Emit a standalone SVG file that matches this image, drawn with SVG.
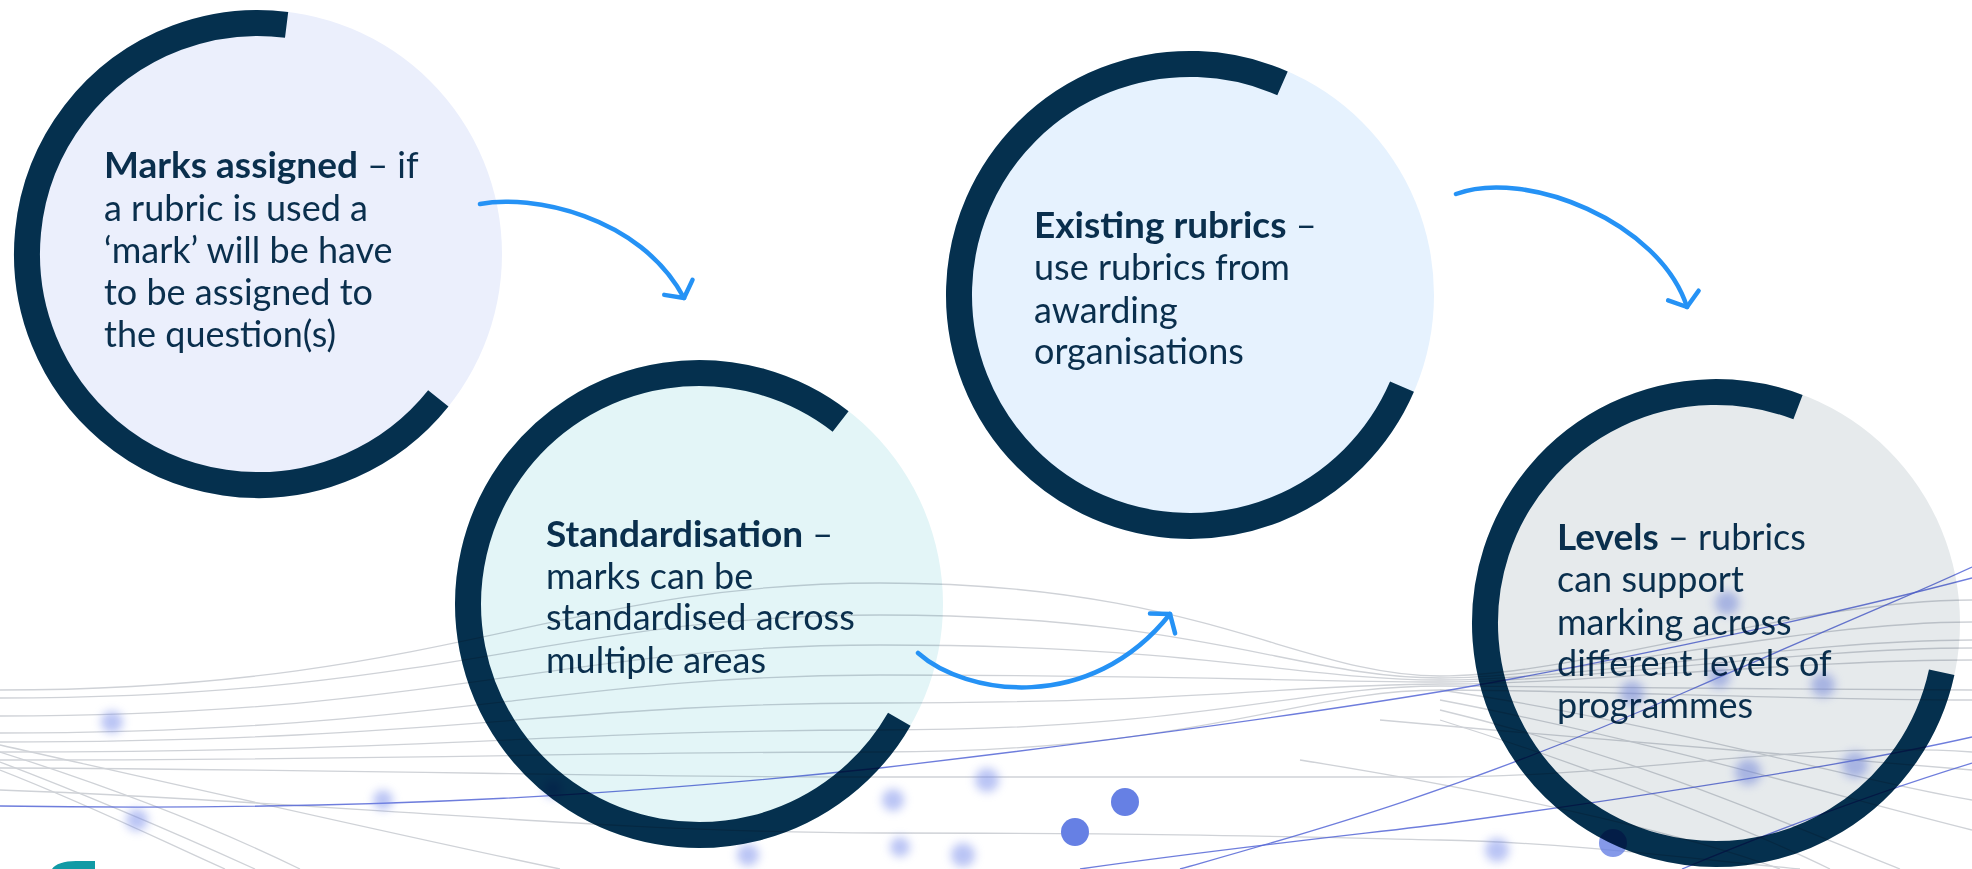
<svg xmlns="http://www.w3.org/2000/svg" width="1972" height="869" viewBox="0 0 1972 869">
<defs>
<style>
.fill1{fill:#EBEFFC}
.fill2{fill:#E3F5F7}
.fill3{fill:#E6F2FE}
.fill4{fill:#E6EAEC}
.ring{fill:none;stroke:#05304E;stroke-width:26}
.txt{font-family:Lato,"Liberation Sans",sans-serif;font-size:36px;fill:#0A2F4D}
.b{font-weight:700;font-size:37px}
.g{fill:none;stroke:#CFD2D7;stroke-width:1.3}
.bl{fill:none;stroke:#5566D6;stroke-width:1.3;opacity:0.85}
.dot{fill:#7489EA;opacity:0.5;filter:url(#blur)}
.sdot{fill:#6680E4}
.arrow{fill:none;stroke:#2592F5;stroke-width:4.5;stroke-linecap:round;marker-end:url(#head)}
</style>
<filter id="blur" x="-100%" y="-100%" width="300%" height="300%"><feGaussianBlur stdDeviation="5"/></filter>
<marker id="head" markerUnits="userSpaceOnUse" orient="auto" refX="0" refY="0" markerWidth="40" markerHeight="40" viewBox="-20 -20 40 40" overflow="visible">
<path d="M-12,-16 L0,0 L-12,16" fill="none" stroke="#2592F5" stroke-width="4.5" stroke-linecap="round" stroke-linejoin="round"/>
</marker>
</defs>
<rect width="1972" height="869" fill="#FFFFFF"/>

<g id="node-marks">
<circle class="fill1" cx="258" cy="254" r="244"/>
<path class="ring" d="M438.3,398.4 A231,231 0 1 1 286.6,24.8"/>
<text class="txt" x="104" y="178"><tspan class="b">Marks assigned</tspan> – if</text>
<text class="txt" x="104" y="221">a rubric is used a</text>
<text class="txt" x="104" y="263">‘mark’ will be have</text>
<text class="txt" x="104" y="305">to be assigned to</text>
<text class="txt" x="104" y="347">the question(s)</text>
</g>

<g id="node-standardisation">
<circle class="fill2" cx="699" cy="604" r="244"/>
<path class="ring" d="M899.3,719.2 A231,231 0 1 1 840.6,421.5"/>
<text class="txt" x="546" y="547"><tspan class="b">Standardisation</tspan> –</text>
<text class="txt" x="546" y="589">marks can be</text>
<text class="txt" x="546" y="630">standardised across</text>
<text class="txt" x="546" y="673">multiple areas</text>
</g>

<g id="node-existing">
<circle class="fill3" cx="1190" cy="295" r="244"/>
<path class="ring" d="M1402,386.7 A231,231 0 1 1 1282.5,83.3"/>
<text class="txt" x="1034" y="238"><tspan class="b">Existing rubrics</tspan> –</text>
<text class="txt" x="1034" y="280">use rubrics from</text>
<text class="txt" x="1034" y="323">awarding</text>
<text class="txt" x="1034" y="364">organisations</text>
</g>

<g id="node-levels">
<circle class="fill4" cx="1716" cy="623" r="244"/>
<path class="ring" d="M1941.7,672.2 A231,231 0 1 1 1798,407.1"/>
<text class="txt" x="1557" y="550"><tspan class="b">Levels</tspan> – rubrics</text>
<text class="txt" x="1557" y="592">can support</text>
<text class="txt" x="1557" y="635">marking across</text>
<text class="txt" x="1557" y="676">different levels of</text>
<text class="txt" x="1557" y="718">programmes</text>
</g>

<g id="background" style="mix-blend-mode:multiply">
<path class="g" d="M0,690 C440,690 560,583 880,583 S1300,676 1440,676 S1800,600 1972,600"/>
<path class="g" d="M0,698 C440,698 560,615 880,615 S1300,678 1440,678 S1800,622 1972,622"/>
<path class="g" d="M0,716 C440,716 560,645 880,645 S1300,680 1440,680 S1800,640 1972,640"/>
<path class="g" d="M0,733 C440,733 560,675 880,675 S1300,682 1440,682 S1800,648 1972,648"/>
<path class="g" d="M0,742 C440,742 560,703 880,703 S1300,684 1440,684 S1800,660 1972,660"/>
<path class="g" d="M0,752 C440,752 560,730 880,730 S1300,686 1440,686 S1800,690 1972,690"/>
<path class="g" d="M0,760 C440,760 560,752 880,752 S1300,690 1440,690 S1800,700 1972,700"/>
<path class="g" d="M0,768 C440,770 560,777 880,777 S1250,777 1440,777 S1800,740 1972,752"/>
<path class="g" d="M0,790 C300,800 600,833 880,833 S1300,837 1440,840 S1700,860 1800,869"/>
<path class="g" d="M0,752 C120,790 220,830 300,869"/>
<path class="g" d="M0,762 C100,800 180,835 255,869"/>
<path class="g" d="M0,770 C90,805 160,840 225,869"/>
<path class="g" d="M0,745 C200,790 420,840 560,869"/>
<path class="g" d="M1440,690 C1650,720 1850,780 1972,800"/>
<path class="g" d="M1440,700 C1650,740 1850,800 1972,830"/>
<path class="g" d="M1440,710 C1650,760 1800,830 1900,869"/>
<path class="g" d="M1440,720 C1600,770 1750,830 1830,869"/>
<path class="g" d="M1300,760 C1550,800 1700,840 1780,869"/>
<path class="g" d="M1380,720 C1600,740 1850,760 1972,770"/>
<path class="bl" d="M0,806 C400,812 650,792 880,768 C1100,742 1300,715 1450,690 C1650,655 1850,610 1972,578"/>
<path class="bl" d="M1180,869 C1300,835 1450,795 1683,693 S1900,600 1972,567"/>
<path class="bl" d="M1080,869 C1250,845 1400,830 1450,823 C1650,795 1850,765 1972,737"/>
<path class="bl" d="M1682,869 C1800,820 1900,785 1972,763"/>
<circle class="dot" cx="112" cy="722" r="11"/>
<circle class="dot" cx="137" cy="820" r="11"/>
<circle class="dot" cx="383" cy="800" r="10"/>
<circle class="dot" cx="553" cy="789" r="9"/>
<circle class="dot" cx="748" cy="855" r="11"/>
<circle class="dot" cx="893" cy="800" r="11"/>
<circle class="dot" cx="987" cy="780" r="12"/>
<circle class="dot" cx="963" cy="855" r="12"/>
<circle class="dot" cx="900" cy="847" r="10"/>
<circle class="dot" cx="1727" cy="603" r="12"/>
<circle class="dot" cx="1632" cy="693" r="12"/>
<circle class="dot" cx="1823" cy="685" r="12"/>
<circle class="dot" cx="1748" cy="772" r="13"/>
<circle class="dot" cx="1855" cy="765" r="13"/>
<circle class="dot" cx="1719" cy="677" r="11"/>
<circle class="dot" cx="1497" cy="850" r="12"/>
<circle class="sdot" cx="1613" cy="843" r="14" opacity="0.8"/>
<circle class="sdot" cx="1125" cy="802" r="14"/>
<circle class="sdot" cx="1075" cy="832" r="14"/>
</g>

<path d="M52,869 C55,864 64,861 76,861 L95,861 L95,869 Z" fill="#119AA5"/>

<g id="connectors">
<path class="arrow" d="M480,204 C530,194 640,215 684,298"/>
<path class="arrow" d="M918,653 C965,695 1090,715 1170,614"/>
<path class="arrow" d="M1456,194 C1525,168 1660,222 1687,307"/>
</g>
</svg>
